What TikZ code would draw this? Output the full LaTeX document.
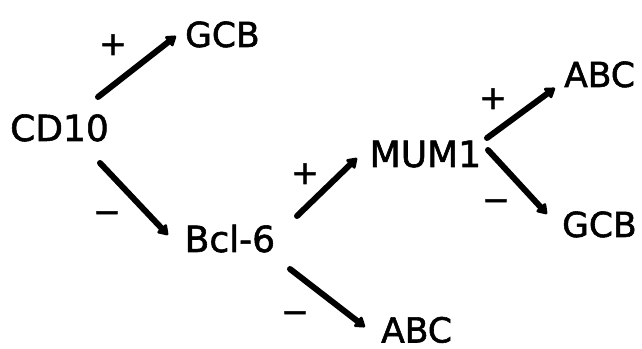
\documentclass[tikz,border=0pt]{standalone}
\usepackage{fontspec}
\setmainfont{DejaVu Sans}[FakeBold=1.6]
\usetikzlibrary{arrows.meta}

\tikzset{
  marker/.style={inner sep=0pt, anchor=base west, font=\fontsize{34.5}{40}\selectfont},
  bigmarker/.style={marker, font=\fontsize{36}{42}\selectfont},
  sign/.style={inner sep=0pt, anchor=base, font=\fontsize{33}{40}\selectfont},
  arr/.style={line width=6pt, line cap=round,
              -{Triangle[length=11pt,width=14pt,round]}},
}

\begin{document}
\begin{tikzpicture}[x=1pt,y=1pt]
  \useasboundingbox (0,0) rectangle (642,348);

  % markers of the decision tree
  \node[bigmarker] (cd10) at (10,207)   {CD10};
  \node[marker]    (gcbT) at (185,301)  {GCB};
  \node[bigmarker] (bcl)  at (184.5,96) {Bcl-6};
  \node[bigmarker] (mum)  at (369.5,181){MUM1};
  \node[marker]    (abcR) at (564,261)  {ABC};
  \node[marker]    (gcbR) at (562,111)  {GCB};
  \node[marker]    (abcB) at (381,5.5)  {ABC};

  % branches
  \draw[arr] ([shift={(88,44)}]cd10.base west)   -- ([shift={(-9,11)}]gcbT.base west);
  \draw[arr] ([shift={(90,-22)}]cd10.base west)  -- ([shift={(-16.5,17)}]bcl.base west);
  \draw[arr] ([shift={(112.5,36)}]bcl.base west) -- ([shift={(-12.5,9)}]mum.base west);
  \draw[arr] ([shift={(105.5,-17)}]bcl.base west)-- ([shift={(-16,15.5)}]abcB.base west);
  \draw[arr] ([shift={(117.5,29)}]mum.base west) -- ([shift={(-9,-1)}]abcR.base west);
  \draw[arr] ([shift={(118.5,17)}]mum.base west) -- ([shift={(-15,23)}]gcbR.base west);

  % signs on the branches
  \node[sign] (p1) at (113,293) {+};
  \node[sign] (m1) at (107,125) {−};
  \node[sign] (p2) at (305,164) {+};
  \node[sign] (m2) at (295,25)  {−};
  \node[sign] (p3) at (493,239) {+};
  \node[sign] (m3) at (496,137) {−};
\end{tikzpicture}
\end{document}
